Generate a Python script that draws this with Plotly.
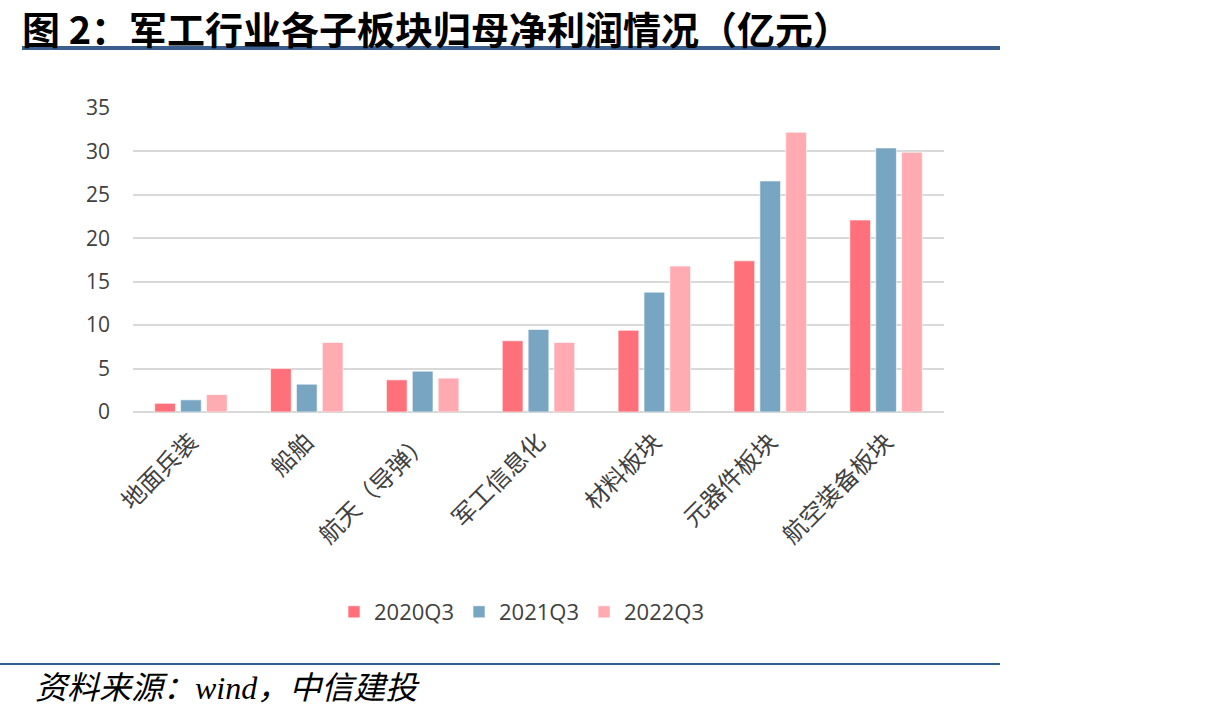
import plotly.graph_objects as go

categories = ["地面兵装", "船舶", "航天（导弹）", "军工信息化", "材料板块", "元器件板块", "航空装备板块"]
s2020 = [1.0, 5.0, 3.7, 8.2, 9.4, 17.4, 22.1]
s2021 = [1.4, 3.2, 4.7, 9.5, 13.8, 26.6, 30.4]
s2022 = [2.0, 8.0, 3.9, 8.0, 16.8, 32.2, 29.9]
series_names = ["2020Q3", "2021Q3", "2022Q3"]
colors = ["#FF717A", "#78A6C2", "#FFABB1"]
y_ticks = [0, 5, 10, 15, 20, 25, 30, 35]

L, R, T, B = 133, 944, 108, 412
W, H = 1205, 720
def px(x): return (x - L) / (R - L)
def py(y): return (B - y) / (B - T)

fig = go.Figure()
for name, vals, c in zip(series_names, [s2020, s2021, s2022], colors):
    fig.add_trace(go.Bar(x=categories, y=vals, name=name,
                         marker=dict(color=c, line=dict(color="rgba(255,255,255,0.6)", width=1))))

font_cjk = "Noto Sans CJK SC"
fig.update_layout(
    width=W, height=H,
    margin=dict(l=L, r=W - R, t=T, b=H - B),
    paper_bgcolor="white", plot_bgcolor="white",
    barmode="group", bargap=0.33, bargroupgap=0.2,
    showlegend=True,
    legend=dict(orientation="h", x=px(522), y=py(612), xanchor="center", yanchor="middle",
                font=dict(family="Open Sans, " + font_cjk, size=22, color="#404040"),
                itemwidth=30, traceorder="normal"),
    xaxis=dict(tickangle=-45, tickfont=dict(family=font_cjk, size=24, color="#404040"),
               showgrid=False, showline=False, ticks="", ticklabelstandoff=10),
    yaxis=dict(range=[0, 35], tickvals=y_ticks, showgrid=True, gridcolor="#D9D9D9", gridwidth=2,
               zeroline=True, zerolinecolor="#D9D9D9", zerolinewidth=2,
               tickfont=dict(family="Open Sans", size=21, color="#404040"), ticks="",
               ticklabelstandoff=22),
    font=dict(family=font_cjk),
)

fig.add_shape(type="line", xref="paper", yref="paper", x0=px(22), x1=px(1000), y0=py(48), y1=py(48),
              line=dict(color="#3A5F8F", width=4))
fig.add_shape(type="line", xref="paper", yref="paper", x0=px(0), x1=px(1000), y0=py(664), y1=py(664),
              line=dict(color="#2F5F8F", width=2))
fig.add_annotation(text="<b>图 2：军工行业各子板块归母净利润情况（亿元）</b>", xref="paper", yref="paper",
                   x=px(20), y=py(27), xanchor="left", yanchor="middle", showarrow=False,
                   font=dict(family=font_cjk, size=38, color="black"))
fig.add_annotation(text="<i>资料来源：wind，中信建投</i>", xref="paper", yref="paper",
                   x=px(33), y=py(688), xanchor="left", yanchor="middle", showarrow=False,
                   font=dict(family="Liberation Serif, " + font_cjk, size=32, color="black"))

fig.write_html("out.html")
